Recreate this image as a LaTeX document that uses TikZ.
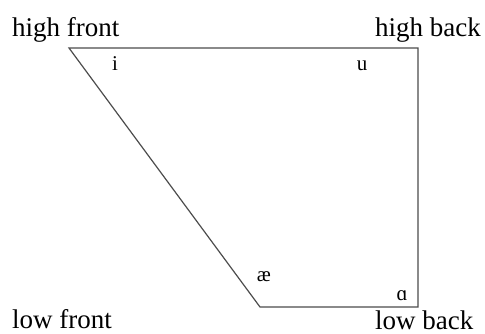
\documentclass[tikz,border=0pt]{standalone}
\usepackage{fontspec}
\setmainfont{Liberation Serif}
\begin{document}
\begin{tikzpicture}[x=1pt,y=-1pt,
  edge/.style={draw=black!70,line width=1.2pt},
  corner/.style={font=\fontsize{27}{30}\selectfont,inner sep=0pt,anchor=base west},
  vowel/.style={font=\fontsize{21}{24}\selectfont,inner sep=0pt,anchor=base}]
\useasboundingbox (0,0) rectangle (485,334);
\coordinate (hf) at (69,48);
\coordinate (hb) at (418,48);
\coordinate (lb) at (418,307);
\coordinate (lf) at (260,307);
\draw[edge,line join=miter] (hf) -- (hb) -- (lb) -- (lf) -- cycle;
\node[corner] (thf) at (12,37) {high front};
\node[corner] (thb) at (375,37) {high back};
\node[corner] (tlf) at (12,328) {low front};
\node[corner] (tlb) at (375,329) {low back};
\node[vowel] (vi) at (115,71) {i};
\node[vowel] (vu) at (362,71) {u};
\node[vowel] (vae) at (264,281) {æ};
\node[vowel] (va) at (402,300) {ɑ};
\end{tikzpicture}
\end{document}
